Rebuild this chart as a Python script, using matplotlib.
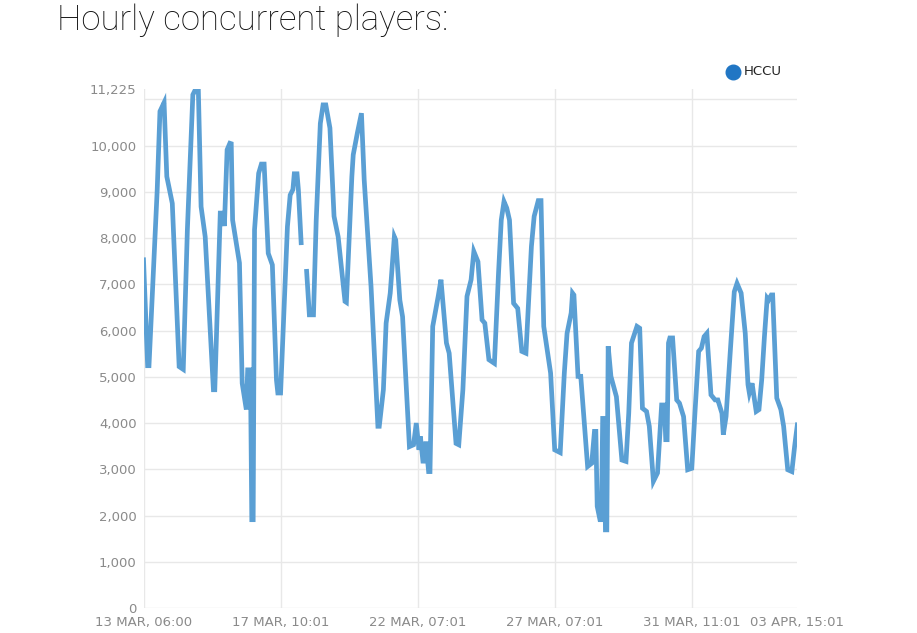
import numpy as np
import matplotlib
matplotlib.use('Agg')
import matplotlib.pyplot as plt
from matplotlib.lines import Line2D

# sample index (hourly points, categorical axis) and HCCU value
idx = [0, 3, 4, 10, 12, 15, 17, 21, 26, 29, 32, 36, 38, 40, 42, 45, 51, 52, 56, 58,
       59, 61, 63, 64, 65, 70, 72, 75, 76, 78, 79, 80, 81, 84, 86, 88, 91, 94, 97, 98,
       100, 105, 107, 109, 110, 112, 113, 115, 117,
       119, 121, 124, 126, 129, 131, 133, 136, 139, 142, 147, 148, 152, 153, 156, 159,
       161, 166, 171, 172, 175, 177, 180, 183, 184, 187, 189, 194, 197, 199, 201, 202,
       204, 206, 207, 208, 209, 211, 215, 217, 221, 223, 228, 230, 233, 236, 239, 241,
       244, 247, 249, 252, 256, 259, 261, 263, 265, 267, 270, 273, 276, 279, 283, 285,
       288, 290, 292, 297, 300, 304, 307, 309, 312, 313, 314, 317, 319, 324, 327, 329,
       330, 331, 333, 334, 335, 336, 337, 338, 339, 341, 345, 349, 352, 354, 356, 360,
       362, 364, 367, 369, 372, 375, 378, 380, 381, 382, 383, 384, 386, 389, 391, 394,
       397, 400, 402, 405, 407, 409, 411, 414, 417, 419, 422, 423, 425, 428, 431, 433,
       436, 439, 441, 442, 444, 445, 447, 449, 451, 453, 455, 456, 458, 459, 462, 465,
       467, 470, 473, 475, 477]
hccu = [7530, 5240, 5240, 9050, 10740, 10930, 9330, 8750, 5220, 5160, 8180, 11100, 11220, 11200, 8680, 8030, 4720, 4720, 8540, 8540,
        8260, 9910, 10050, 10040, 8390, 7460, 4860, 4290, 5150, 5150, 1910, 1910, 8180, 9400, 9600, 9600, 7670, 7420, 4930, 4650,
        4650, 8250, 8930, 9050, 9390, 9390, 9040, 7900, np.nan,
        7280, 6340, 6340, 8390, 10480, 10880, 10880, 10380, 8470, 8030, 6630, 6610, 9330, 9800, 10270, 10700,
        9260, 6950, 3930, 3930, 4720, 6160, 6810, 8030, 7960, 6660, 6300, 3490, 3530, 4000, 3420, 3710,
        3130, 3600, 3280, 2950, 2950, 6090, 6740, 7100, 5730, 5510, 3560, 3530, 4720, 6740, 7100, 7710,
        7490, 6230, 6160, 5370, 5290, 7240, 8390, 8790, 8650, 8390, 6590, 6480, 5550, 5510, 7820, 8470,
        8810, 8810, 6090, 5080, 3420, 3360, 5080, 5940, 6380, 6810, 6770, 5010, 5010, 3060, 3130, 3820,
        3820, 2200, 1910, 1910, 4100, 4100, 1690, 1690, 5660, 5010, 4570, 3200, 3170, 4210, 5730, 6090,
        6050, 4320, 4250, 3930, 2740, 2920, 4390, 4390, 3640, 3640, 5730, 5840, 5840, 4500, 4430, 4140,
        2990, 3020, 4070, 5550, 5620, 5870, 5940, 4610, 4500, 4500, 4210, 3750, 4140, 5510, 6840, 7020,
        6810, 5940, 4830, 4650, 4860, 4650, 4250, 4290, 4930, 5870, 6700, 6660, 6770, 6770, 4540, 4290,
        3930, 2990, 2950, 3490, 3960]

tick_pos = [0, 100, 200, 300, 400, 477]
tick_labels = ['13 MAR, 06:00', '17 MAR, 10:01', '22 MAR, 07:01', '27 MAR, 07:01',
               '31 MAR, 11:01', '03 APR, 15:01']
y_max = 11225
y_ticks = [0, 1000, 2000, 3000, 4000, 5000, 6000, 7000, 8000, 9000, 10000, 11225]


def main():
    plt.rcParams['font.family'] = ['DejaVu Sans']
    fig = plt.figure(figsize=(9.17, 6.33), dpi=100)
    ax = fig.add_axes([0.1565, 0.0395, 0.713, 0.82])

    ax.plot(idx, hccu, color='#5a9fd4', lw=3.4, solid_joinstyle='miter')

    ax.set_xlim(0, 477)
    ax.set_ylim(0, y_max)

    # grid: horizontal every 1000 (11,000 label is hidden in the original), vertical at ticks
    for g in range(0, 11001, 1000):
        ax.axhline(g, color='#e8e8e8', lw=1, zorder=0)
    for g in tick_pos[:-1]:
        ax.axvline(g, color='#e8e8e8', lw=1, zorder=0)

    ax.set_yticks(y_ticks)
    ax.set_yticklabels([f'{v:,}' for v in y_ticks])
    ax.set_xticks(tick_pos)
    ax.set_xticklabels(tick_labels)
    ax.tick_params(length=0, colors='#8a8a8a', labelsize=9.5)
    ax.tick_params(axis='y', pad=5)
    ax.tick_params(axis='x', pad=6)
    for s in ax.spines.values():
        s.set_visible(False)

    fig.text(0.062, 0.968, 'Hourly concurrent players:', fontsize=25, family='Roboto',
             weight='light', va='center', ha='left', color='#111111')

    fig.add_artist(Line2D([733 / 917], [1 - 71.5 / 633], marker='o', ms=10.5, lw=0,
                          color='#2176c4', transform=fig.transFigure))
    fig.text(744 / 917, 1 - 71.5 / 633, 'HCCU', fontsize=9.5, va='center', ha='left',
             color='#222222')

    fig.savefig('out.png', dpi=100, facecolor='white')


if __name__ == "__main__":
    main()
